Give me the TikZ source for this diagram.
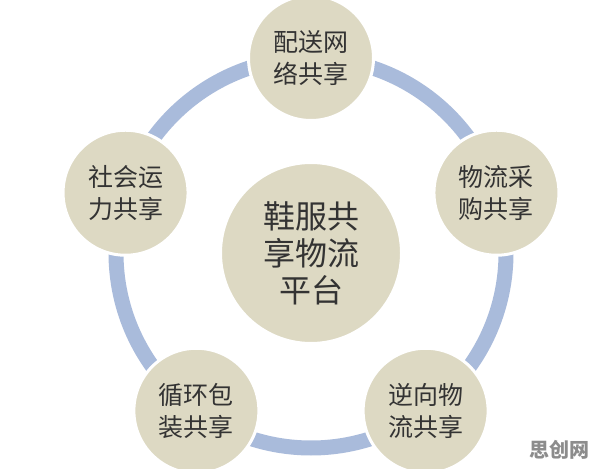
\documentclass[tikz,border=0pt]{standalone}
\usepackage{fontspec}
\newfontfamily\cjk{Noto Sans CJK SC}
\usetikzlibrary{positioning}
\definecolor{ringblue}{HTML}{A9BBDB}
\definecolor{sand}{HTML}{DDD9C3}

\begin{document}
\begin{tikzpicture}[
            x=1pt, y=1pt,
            share/.style={circle, fill=sand, draw=white, line width=3pt, minimum size=125pt, inner sep=0pt, align=center, text=black!80, font=\cjk\fontsize{25}{32}\selectfont},
            hub/.style={share, minimum size=181pt, font=\cjk\fontsize{32}{37}\selectfont},
            ring/.style={draw=ringblue, line width=15pt}
        ]
            \useasboundingbox (0,0) rectangle (596,468);
            \coordinate (mid) at (311,215);
            \draw[ring] (mid) circle[radius=195];

            \node (platform) [hub] at (mid) {鞋服共\\享物流\\平台};
            \node (peisong) [share] at ([shift={(90:195)}]mid) {配送网\\络共享};
            \node (caigou) [share] at ([shift={(18:195)}]mid) {物流采\\购共享};
            \node (nixiang) [share] at ([shift={(-54:195)}]mid) {逆向物\\流共享};
            \node (baozhuang) [share] at ([shift={(234:195)}]mid) {循环包\\装共享};
            \node (yunli) [share] at ([shift={(162:195)}]mid) {社会运\\力共享};

            % watermark
            \node (mark) at (559,18) [text=black!45, font=\cjk\bfseries\fontsize{20}{20}\selectfont] {思创网};
        \end{tikzpicture}
\end{document}
